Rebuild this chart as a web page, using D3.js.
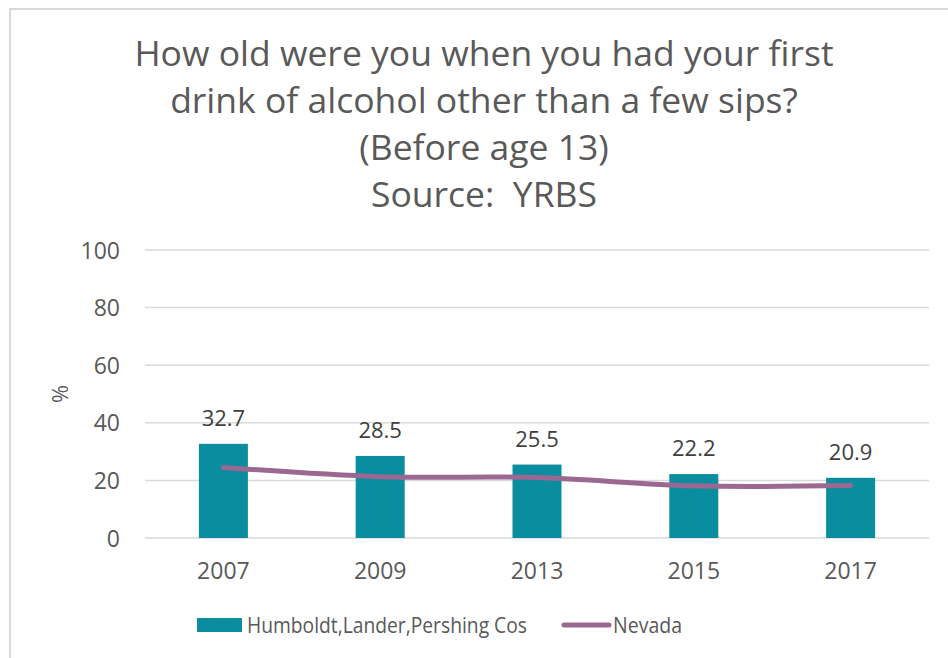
<!DOCTYPE html>
<html>
<head>
<meta charset="utf-8">
<script src="https://cdn.jsdelivr.net/npm/d3@7"></script>
<style>
  html, body { margin: 0; padding: 0; background: #fff; }
  svg text { font-family: "Open Sans", "Noto Sans", sans-serif; }
</style>
</head>
<body>
<div id="chart"></div>
<script>
// data
const years = ['2007', '2009', '2013', '2015', '2017']
const county = [32.7, 28.5, 25.5, 22.2, 20.9]
const nevada = [24.5, 21.3, 21.0, 18.1, 18.2]
const yTicks = [0, 20, 40, 60, 80, 100]
const titleLines = [
  'How old were you when you had your first',
  'drink of alcohol other than a few sips?',
  '(Before age 13)',
  'Source:  YRBS'
]
const seriesNames = ['Humboldt,Lander,Pershing Cos', 'Nevada']

const W = 948, H = 658
const margin = {top: 250, right: 19, bottom: 120, left: 145}
const width = W - margin.left - margin.right
const height = H - margin.top - margin.bottom

const barColor = '#0b8da0'
const lineColor = '#9a6891'
const textColor = '#595959'

const raw = d3.select('#chart').append('svg')
  .attr('width', W)
  .attr('height', H)

// outer frame (only top and left edges show)
raw.append('path')
  .attr('d', `M10,${H}V9H${W}`)
  .attr('fill', 'none')
  .attr('stroke', '#d9d9d9')
  .attr('stroke-width', 2)

// title
raw.append('g').selectAll('text')
  .data(titleLines)
  .enter()
  .append('text')
  .attr('x', 484)
  .attr('y', (d, i) => 66 + i * 47)
  .attr('text-anchor', 'middle')
  .style('font-size', '35.5px')
  .style('white-space', 'pre')
  .attr('fill', textColor)
  .text((d) => d)

const svg = raw.append('g')
  .attr('transform', `translate(${margin.left},${margin.top})`)

// scales
const xs = d3.scaleBand()
  .domain(years)
  .range([0, width])
const ys = d3.scaleLinear()
  .domain([0, 100])
  .range([height, 0])
const barW = 49

// grid
svg.selectAll('.grid')
  .data(yTicks)
  .enter()
  .append('line')
  .classed('grid', true)
  .attr('x1', 0)
  .attr('x2', width)
  .attr('y1', (d) => ys(d))
  .attr('y2', (d) => ys(d))
  .attr('stroke', '#d9d9d9')
  .attr('stroke-width', 1.5)

// y axis
const yAxis = svg.append('g')
  .attr('transform', 'translate(-25,0)')
  .call(d3.axisLeft(ys).tickValues(yTicks).tickSize(0).tickPadding(0))
yAxis.select('.domain').remove()
yAxis.selectAll('text')
  .attr('fill', textColor)
  .attr('dy', '0.35em')
  .style('font-size', '23px')
  .style('font-family', '"Open Sans", sans-serif')

svg.append('text')
  .attr('transform', 'rotate(-90)')
  .attr('x', -(ys(50)))
  .attr('y', -77)
  .attr('text-anchor', 'middle')
  .attr('fill', textColor)
  .style('font-size', '22px')
  .text('%')

// x axis
const xAxis = svg.append('g')
  .attr('transform', `translate(0,${height})`)
  .call(d3.axisBottom(xs).tickSize(0).tickPadding(0))
xAxis.select('.domain').remove()
xAxis.selectAll('text')
  .attr('fill', textColor)
  .attr('y', 41)
  .attr('dy', 0)
  .style('font-size', '23px')
  .style('font-family', '"Open Sans", sans-serif')

// bars
const cx = (i) => xs(years[i]) + xs.bandwidth() / 2
svg.selectAll('.bar')
  .data(county)
  .enter()
  .append('rect')
  .classed('bar', true)
  .attr('x', (d, i) => cx(i) - barW / 2)
  .attr('y', (d) => ys(d))
  .attr('width', barW)
  .attr('height', (d) => height - ys(d))
  .attr('fill', barColor)

// bar labels
svg.selectAll('.label')
  .data(county)
  .enter()
  .append('text')
  .classed('label', true)
  .attr('x', (d, i) => cx(i))
  .attr('y', (d) => ys(d) - 18)
  .attr('text-anchor', 'middle')
  .attr('fill', '#404040')
  .style('font-size', '22px')
  .text((d) => d.toFixed(1))

// nevada line
const line = d3.line()
  .x((d, i) => cx(i))
  .y((d) => ys(d))
  .curve(d3.curveCatmullRom.alpha(0.5))
svg.append('path')
  .datum(nevada)
  .attr('d', line)
  .attr('fill', 'none')
  .attr('stroke', lineColor)
  .attr('stroke-width', 5)
  .attr('stroke-linecap', 'round')

// legend
const legend = raw.append('g')
legend.append('rect')
  .attr('x', 197)
  .attr('y', 618)
  .attr('width', 45)
  .attr('height', 14)
  .attr('fill', barColor)
legend.append('text')
  .attr('x', 247)
  .attr('y', 633)
  .attr('fill', textColor)
  .attr('textLength', 280)
  .attr('lengthAdjust', 'spacingAndGlyphs')
  .style('font-size', '22.5px')
  .text(seriesNames[0])
legend.append('line')
  .attr('x1', 564)
  .attr('x2', 609)
  .attr('y1', 625)
  .attr('y2', 625)
  .attr('stroke', lineColor)
  .attr('stroke-width', 5)
  .attr('stroke-linecap', 'round')
legend.append('text')
  .attr('x', 613)
  .attr('y', 633)
  .attr('fill', textColor)
  .attr('textLength', 69)
  .attr('lengthAdjust', 'spacingAndGlyphs')
  .style('font-size', '22.5px')
  .text(seriesNames[1])
</script>
</body>
</html>
